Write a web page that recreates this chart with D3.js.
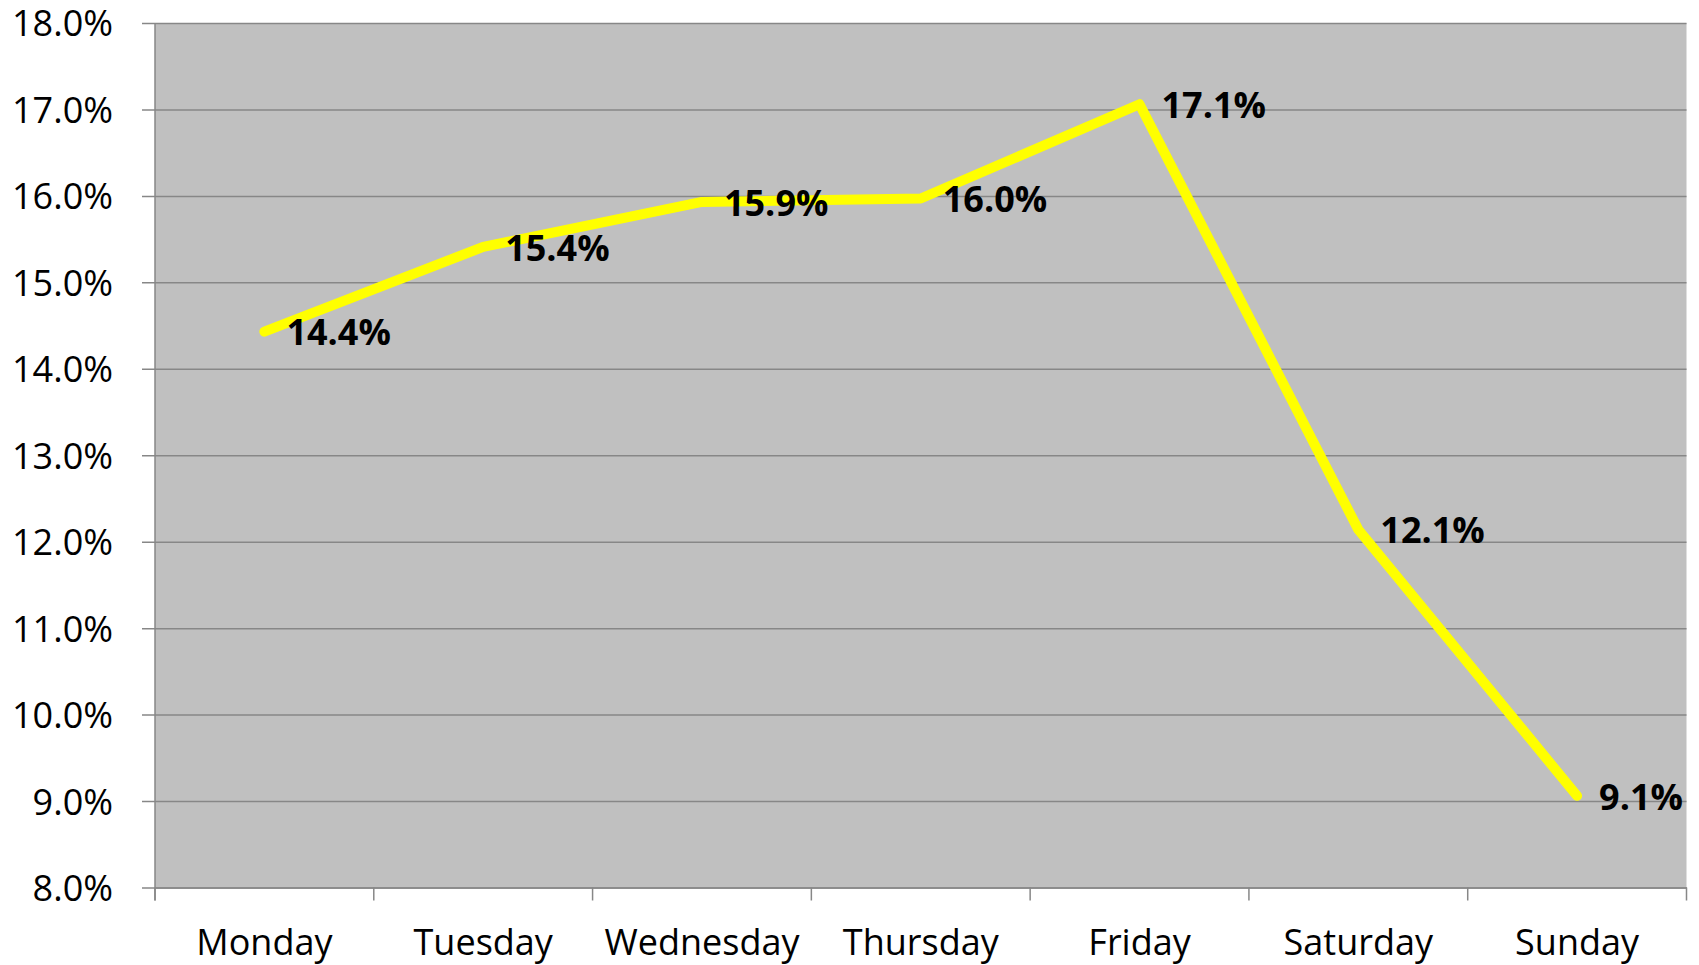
<!DOCTYPE html>
<html>
<head>
<meta charset="utf-8">
<script src="https://cdn.jsdelivr.net/npm/d3@7"></script>
<style>
  html, body { margin: 0; padding: 0; background: #fff; }
  svg { display: block; }
  text { font-family: "Open Sans", sans-serif; }
</style>
</head>
<body>
<svg id="chart" width="1699" height="965"></svg>
<script>
const categories = ["Monday", "Tuesday", "Wednesday", "Thursday", "Friday", "Saturday", "Sunday"];
const values = [14.43, 15.41, 15.93, 15.97, 17.06, 12.14, 9.06];
const labels = ["14.4%", "15.4%", "15.9%", "16.0%", "17.1%", "12.1%", "9.1%"];
const yTicks = [8, 9, 10, 11, 12, 13, 14, 15, 16, 17, 18];

const margin = { left: 155, right: 1699 - 1686.5, top: 23, bottom: 965 - 887.5 };
const W = 1699, H = 965;
const svg = d3.select("#chart");

const x = d3.scaleBand().domain(categories).range([margin.left, W - margin.right]).paddingInner(0).paddingOuter(0);
const y = d3.scaleLinear().domain([8, 18]).range([H - margin.bottom, margin.top]);

// plot background
svg.append("rect")
  .attr("x", margin.left).attr("y", margin.top)
  .attr("width", W - margin.right - margin.left)
  .attr("height", H - margin.bottom - margin.top)
  .attr("fill", "#c0c0c0");

// gridlines + y axis
const yAxis = d3.axisLeft(y).tickValues(yTicks)
  .tickFormat(d => d.toFixed(1) + "%")
  .tickSize(-(W - margin.right - margin.left + 13))
  .tickPadding(29);
const gy = svg.append("g").attr("transform", `translate(${margin.left - 13},0)`).call(yAxis);
gy.select(".domain").remove();
gy.selectAll(".tick line").attr("stroke", "#878787").attr("stroke-width", 1.5);
gy.selectAll(".tick text")
  .attr("font-size", 36).attr("fill", "#000")
  .attr("font-family", "'Open Sans', sans-serif")
  .attr("dy", "0.36em");

// left axis line
svg.append("line")
  .attr("x1", margin.left).attr("x2", margin.left)
  .attr("y1", margin.top).attr("y2", H - margin.bottom + 13)
  .attr("stroke", "#878787").attr("stroke-width", 1.5);

// x axis
const gx = svg.append("g").attr("transform", `translate(0,${H - margin.bottom})`)
  .call(d3.axisBottom(x).tickSize(0).tickPadding(0));
gx.select(".domain").attr("stroke", "#878787").attr("stroke-width", 1.5);
gx.selectAll(".tick text")
  .attr("font-size", 36).attr("fill", "#000")
  .attr("font-family", "'Open Sans', sans-serif")
  .attr("dy", null).attr("y", 67.5);
// category boundary ticks
const bounds = categories.map(c => x(c)).concat([x.range()[1]]);
svg.append("g").selectAll("line").data(bounds).join("line")
  .attr("x1", d => d).attr("x2", d => d)
  .attr("y1", H - margin.bottom).attr("y2", H - margin.bottom + 13)
  .attr("stroke", "#878787").attr("stroke-width", 1.5);

// line
const cx = d => x(d) + x.bandwidth() / 2;
const line = d3.line().x((d, i) => cx(categories[i])).y(d => y(d));
svg.append("path")
  .datum(values)
  .attr("d", line)
  .attr("fill", "none")
  .attr("stroke", "#ffff00")
  .attr("stroke-width", 10)
  .attr("stroke-linejoin", "round")
  .attr("stroke-linecap", "round");

// data labels
svg.append("g").selectAll("text").data(values).join("text")
  .attr("x", (d, i) => cx(categories[i]) + 22)
  .attr("y", d => y(d))
  .attr("dy", "0.38em")
  .attr("font-size", 36)
  .attr("font-weight", "bold")
  .attr("fill", "#000")
  .text((d, i) => labels[i]);
</script>
</body>
</html>
